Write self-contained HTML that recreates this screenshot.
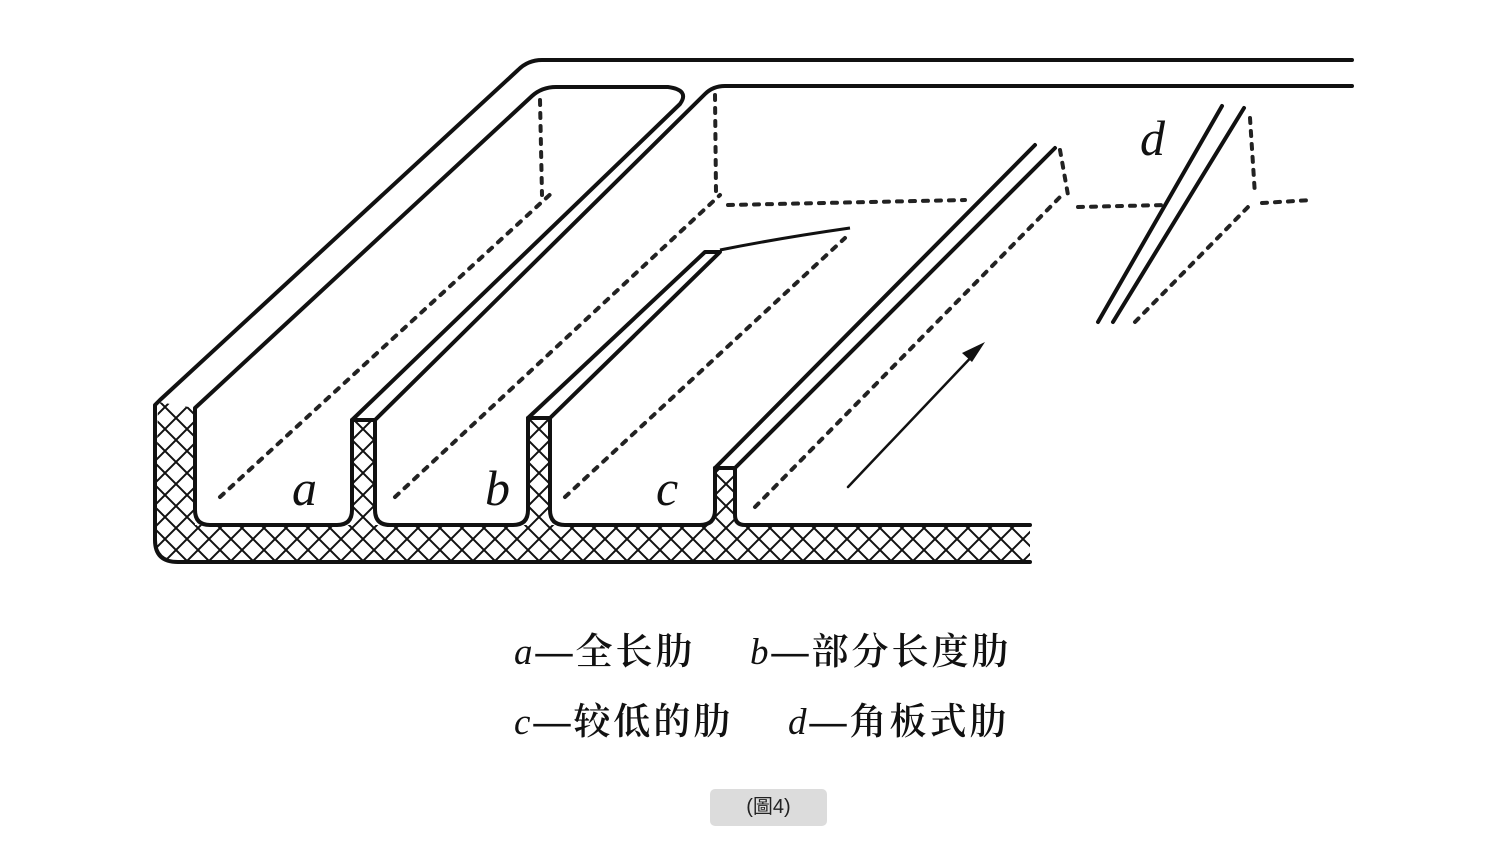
<!DOCTYPE html>
<html><head><meta charset="utf-8"><style>
html,body{margin:0;padding:0;background:#fff;width:1500px;height:844px;overflow:hidden}
.t{position:absolute;font-family:"Liberation Serif","Noto Serif CJK SC",serif;font-size:37px;letter-spacing:3px;color:#111;white-space:pre;font-weight:600}
.t i{font-family:"Liberation Serif",serif;font-weight:normal}
.btn{position:absolute;left:710px;top:789px;width:117px;height:37px;background:#dcdcdc;border-radius:5px;font-family:"Liberation Sans","Noto Sans CJK TC",sans-serif;font-size:20px;text-align:center;line-height:37px;color:#222}
</style></head><body>
<svg width="1500" height="844" style="position:absolute;left:0;top:0">
<defs>
<pattern id="h" width="22" height="22" patternUnits="userSpaceOnUse">
<path d="M0 0L22 22M22 0L0 22" stroke="#111" stroke-width="2"/>
</pattern>
</defs>
<g fill="url(#h)" stroke="none">
<path d="M158 402 L195 408 L195 525 L1030 525 L1030 562 L178 562 Q155 562 155 540 Z"/>
<rect x="352" y="420" width="23" height="105"/>
<rect x="528" y="418" width="22" height="107"/>
<rect x="715" y="468" width="20" height="57"/>
</g>
<g fill="none" stroke="#111" stroke-width="4" stroke-linecap="round" stroke-linejoin="round">
<path d="M1352 60 L542 60 Q528 60 518 70 L160 400 L155 405 L155 540 Q155 562 178 562 L1030 562"/>
<path d="M1030 525 L745 525 Q735 525 735 515 L735 468 L1055 148"/>
<path d="M715 468 L1035 145"/>
<path d="M735 468 L715 468"/>
<path d="M195 408 L532 96 Q542 87 556 87 L668 87 Q690 90 680 104 L352 420 L352 510 Q352 525 337 525 L210 525 Q195 525 195 510 Z"/>
<path d="M375 420 L705 94 Q713 86 725 86 L1352 86"/>
<path d="M352 420 L375 420"/>
<path d="M375 420 L375 510 Q375 525 390 525 L513 525 Q528 525 528 510 L528 418"/>
<path d="M528 418 L705 252 L720 252 L550 418 Z"/>
<path d="M550 418 L550 510 Q550 525 565 525 L700 525 Q715 525 715 510 L715 468"/>
<path d="M1098 322 L1222 106"/>
<path d="M1113 322 L1244 108"/>
<path d="M848 487 L978 350" stroke-width="2.5"/>
</g>
<path d="M720 250 Q780 238 850 228" stroke="#111" stroke-width="3" fill="none"/>
<path d="M985 342 L962 353 L972 362 Z" fill="#111"/>
<g fill="none" stroke="#222" stroke-width="4" stroke-dasharray="5 8" stroke-linecap="round">
<path d="M220 497 L555 190"/>
<path d="M540 100 L542 195"/>
<path d="M395 497 L720 195"/>
<path d="M715 95 L716 192"/>
<path d="M728 205 L965 200"/>
<path d="M565 497 L845 238"/>
<path d="M755 507 L1062 195"/>
<path d="M1060 150 L1068 195"/>
<path d="M1078 207 L1165 205"/>
<path d="M1135 322 L1250 205"/>
<path d="M1250 118 L1255 195"/>
<path d="M1262 203 L1312 200"/>
</g>
<g font-family="Liberation Serif,serif" font-style="italic" font-size="50" fill="#111">
<text x="292" y="505">a</text>
<text x="485" y="505">b</text>
<text x="656" y="505">c</text>
<text x="1140" y="155">d</text>
</g>
</svg>
<div class="t" style="left:514px;top:621px"><i>a</i>—全长肋</div>
<div class="t" style="left:750px;top:621px"><i>b</i>—部分长度肋</div>
<div class="t" style="left:514px;top:691px"><i>c</i>—较低的肋</div>
<div class="t" style="left:788px;top:691px"><i>d</i>—角板式肋</div>
<div class="btn">(圖4)</div>
</body></html>
